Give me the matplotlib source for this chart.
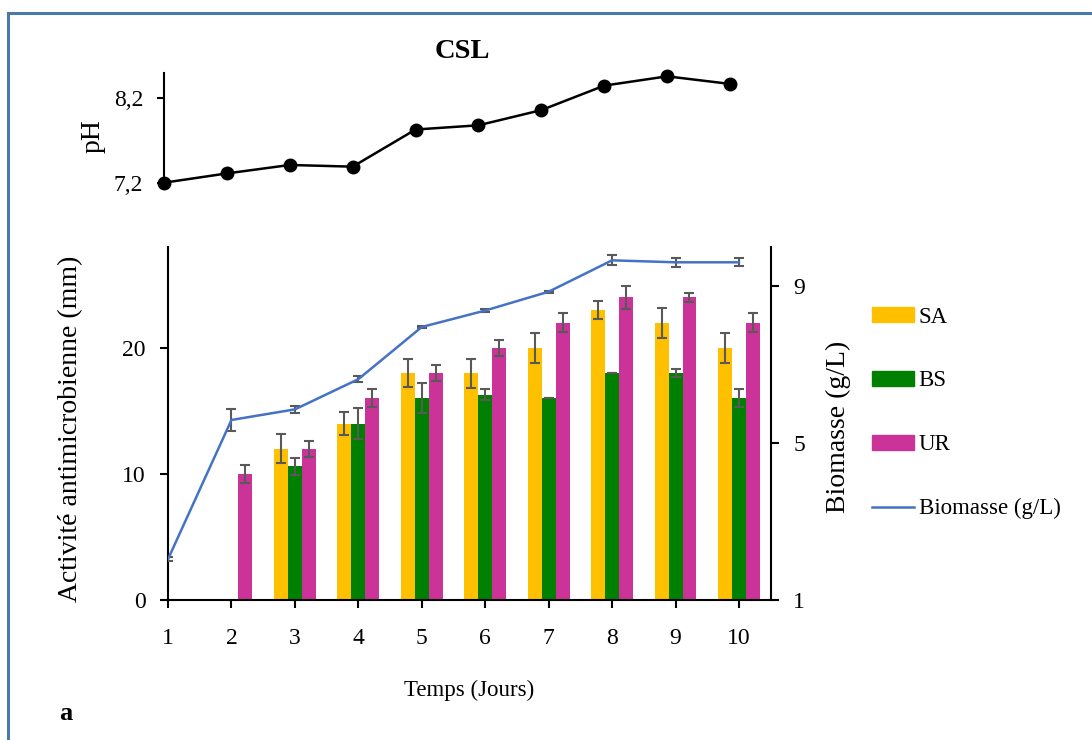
import matplotlib
matplotlib.use('Agg')
import matplotlib.pyplot as plt
import numpy as np
from matplotlib.patches import Patch
from matplotlib.lines import Line2D

# data
days = [1, 2, 3, 4, 5, 6, 7, 8, 9, 10]
ph = [7.20, 7.31, 7.41, 7.39, 7.83, 7.88, 8.06, 8.35, 8.46, 8.37]

sa = [np.nan, np.nan, 12, 14, 18, 18, 20, 23, 22, 20]
sa_err = [np.nan, np.nan, 1.15, 0.9, 1.1, 1.15, 1.2, 0.7, 1.2, 1.2]
bs = [np.nan, np.nan, 10.6, 14, 16, 16.3, 16, 18, 18, 16]
bs_err = [np.nan, np.nan, 0.7, 1.2, 1.2, 0.4, 0.0, 0.0, 0.35, 0.7]
ur = [np.nan, 10, 12, 16, 18, 20, 22, 24, 24, 22]
ur_err = [np.nan, 0.7, 0.65, 0.7, 0.65, 0.65, 0.75, 0.9, 0.35, 0.75]

biomasse = [2.04, 5.59, 5.86, 6.63, 7.96, 8.38, 8.86, 9.66, 9.61, 9.61]
biomasse_err = [0.05, 0.28, 0.08, 0.08, 0.03, 0.03, 0.03, 0.13, 0.12, 0.1]

plt.rcParams['font.family'] = ['Liberation Serif', 'DejaVu Serif']
plt.rcParams['font.size'] = 16

TICK_FS = 17
ROT_FS = 20

W, H = 1092, 740
fig = plt.figure(figsize=(W / 100.0, H / 100.0), dpi=100, facecolor='white')

def fx(px):
	return px / float(W)

def fy(py):
	return 1 - py / float(H)

# --- pH panel ---
axp = fig.add_axes([fx(164), fy(182.7), fx(761.5) - fx(164), fy(72.7) - fy(182.7)])
axp.plot(days, ph, color='black', lw=1.8, marker='o', ms=9, clip_on=False)
axp.set_xlim(1, 10.5)
axp.set_ylim(7.2, 8.503)
axp.set_yticks([7.2, 8.2])
axp.set_yticklabels(['7,2', '8,2'])
for s in ['top', 'right', 'bottom']:
	axp.spines[s].set_visible(False)
axp.spines['left'].set_linewidth(1.5)
axp.tick_params(axis='y', direction='out', length=5, width=1.5, pad=10, labelsize=TICK_FS)
axp.set_xticks([])
axp.set_ylabel('pH', fontsize=ROT_FS)
axp.yaxis.set_label_coords(-0.097, 0.42)
fig.text(fx(462), fy(52), 'CSL', fontsize=20.5, fontweight='bold', ha='center', va='center')

# --- main panel ---
ax = fig.add_axes([fx(168), fy(600), fx(771) - fx(168), fy(247) - fy(600)])
x = np.array(days, dtype=float)
w = 0.22
ekw = dict(ecolor='#595959', elinewidth=1.5, capsize=3.5, capthick=1.5)
ax.bar(x - w, sa, w, color='#FFC000', yerr=sa_err, error_kw=ekw, zorder=2)
ax.bar(x, bs, w, color='#008000', yerr=bs_err, error_kw=ekw, zorder=2)
ax.bar(x + w, ur, w, color='#CC3399', yerr=ur_err, error_kw=ekw, zorder=2)
ax.set_xlim(1, 10.505)
ax.set_ylim(0, 28)
ax.set_yticks([0, 10, 20])
ax.set_xticks(days)
ax.spines['top'].set_visible(False)
ax.spines['right'].set_visible(False)
ax.spines['left'].set_linewidth(1.5)
ax.spines['bottom'].set_linewidth(1.5)
ax.tick_params(direction='out', length=6, width=1.5, labelsize=TICK_FS)
ax.tick_params(axis='x', pad=14)
ax.tick_params(axis='y', pad=10)
ax.set_ylabel('Activité antimicrobienne (mm)', fontsize=ROT_FS)
ax.yaxis.set_label_coords(-0.141, 0.486)
ax.set_xlabel('Temps (Jours)', fontsize=16.5)
ax.xaxis.set_label_coords(0.5, -0.225)

ax2 = ax.twinx()
ax2.errorbar(days, biomasse, yerr=biomasse_err, color='#4472C4', lw=1.8,
	ecolor='#595959', elinewidth=1.5, capsize=3.5, capthick=1.5, zorder=3)
ax2.set_ylim(1, 10)
ax2.set_yticks([1, 5, 9])
ax2.spines['top'].set_visible(False)
ax2.spines['right'].set_linewidth(1.5)
ax2.spines['left'].set_visible(False)
ax2.spines['bottom'].set_visible(False)
ax2.tick_params(direction='out', length=6, width=1.5, pad=10, labelsize=TICK_FS)
ax2.set_ylabel('Biomasse (g/L)', fontsize=ROT_FS)
ax2.yaxis.set_label_coords(1.091, 0.491)

handles = [
	Patch(color='#FFC000', label='SA'),
	Patch(color='#008000', label='BS'),
	Patch(color='#CC3399', label='UR'),
	Line2D([0], [0], color='#4472C4', lw=1.8, label='Biomasse (g/L)'),
]
fig.legend(handles=handles, loc='center left', bbox_to_anchor=(fx(851), fy(413)),
	frameon=False, fontsize=16.5, handlelength=1.85, handleheight=0.62,
	handletextpad=0.2, labelspacing=1.87)

fig.text(fx(66), fy(713), 'a', fontsize=19, fontweight='bold', ha='center', va='center')

# blue frame around the panel (top and left only visible)
fig.add_artist(Line2D([fx(8), 1], [fy(13), fy(13)], color='#4a79a8', lw=2.2, transform=fig.transFigure))
fig.add_artist(Line2D([fx(8), fx(8)], [0, fy(13)], color='#4a79a8', lw=2.2, transform=fig.transFigure))

fig.savefig('out.png', dpi=100, facecolor='white')
